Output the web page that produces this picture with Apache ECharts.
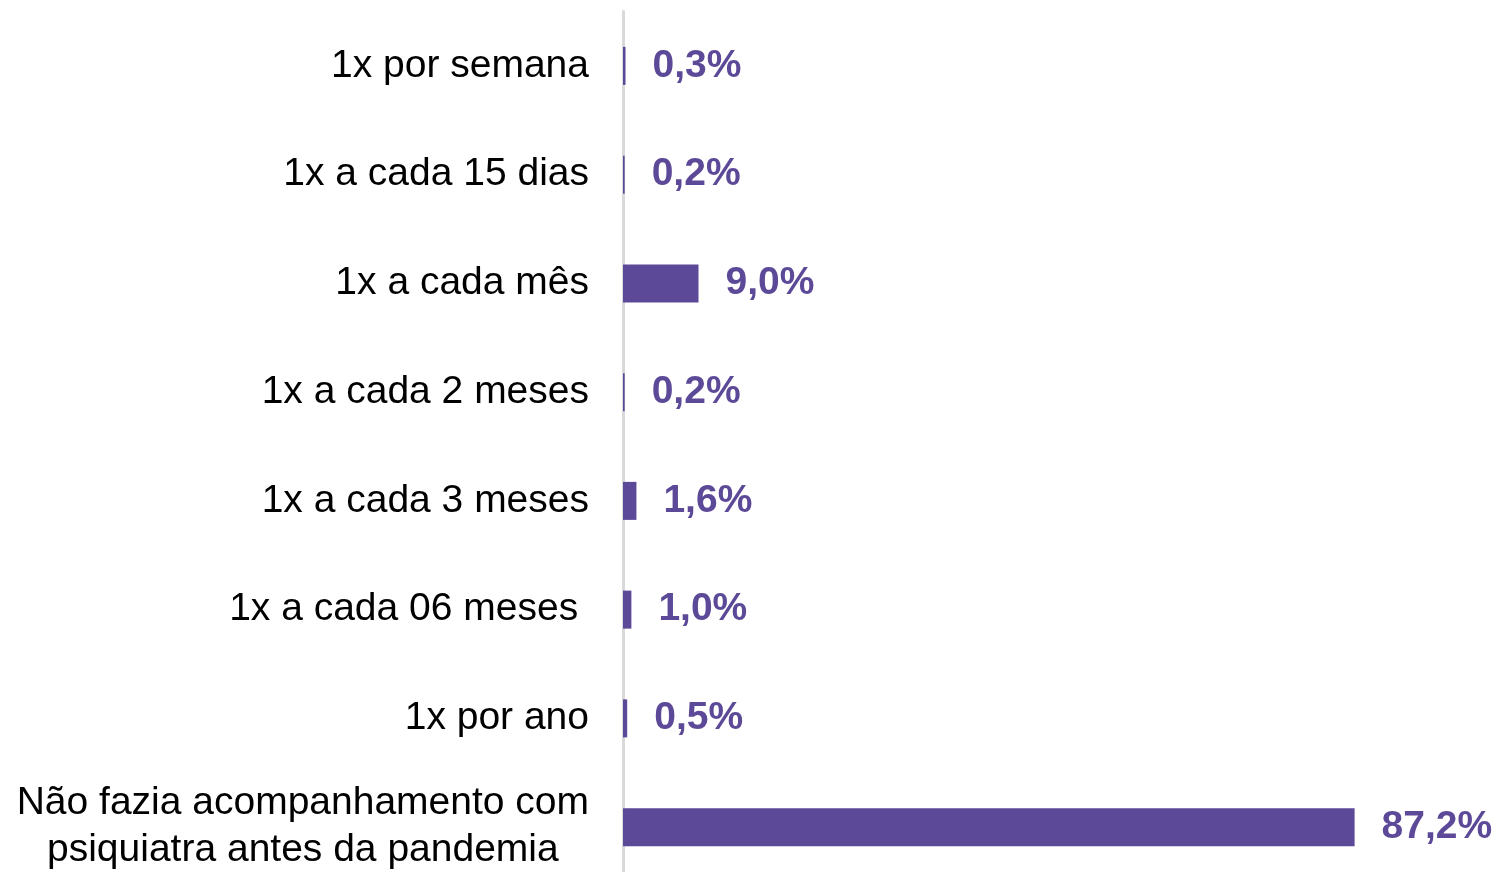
<!DOCTYPE html>
<html>
<head>
<meta charset="utf-8">
<script src="https://cdn.jsdelivr.net/npm/echarts@6/dist/echarts.min.js"></script>
<style>
html,body{margin:0;padding:0;background:#fff;}
#chart{width:1498px;height:872px;}
</style>
</head>
<body>
<div id="chart"></div>
<script>
const categories = [
  '1x por semana',
  '1x a cada 15 dias',
  '1x a cada mês',
  '1x a cada 2 meses',
  '1x a cada 3 meses',
  '1x a cada 06 meses ',
  '1x por ano',
  'Não fazia acompanhamento com\npsiquiatra antes da pandemia'
];
const values = [0.3, 0.2, 9.0, 0.2, 1.6, 1.0, 0.5, 87.2];

const chart = echarts.init(document.getElementById('chart'));
chart.setOption({
  animation: false,
  backgroundColor: '#ffffff',
  grid: { left: 623, right: 36, top: 11.5, height: 870, containLabel: false, outerBoundsMode: 'none' },
  xAxis: {
    type: 'value', min: 0, max: 100, show: false,
    splitLine: { show: false }
  },
  yAxis: {
    type: 'category',
    inverse: true,
    data: categories,
    axisTick: { show: false },
    axisLine: { show: true, lineStyle: { color: '#D9D9D9', width: 3 } },
    axisLabel: {
      margin: 34,
      color: '#000000',
      fontFamily: 'Liberation Sans, Arial, sans-serif',
      fontSize: 39,
      lineHeight: 47,
      formatter: function (v) {
        if (v.indexOf('\n') >= 0) {
          return v.split('\n').map(function (s) { return '{c|' + s + '}'; }).join('\n');
        }
        return v;
      },
      rich: {
        c: {
          align: 'center',
          color: '#000000',
          fontFamily: 'Liberation Sans, Arial, sans-serif',
          fontSize: 39,
          lineHeight: 47
        }
      }
    }
  },
  series: [{
    type: 'bar',
    data: values,
    barWidth: 38,
    itemStyle: { color: '#5C4997' },
    label: {
      show: true,
      position: 'right',
      distance: 27,
      color: '#5C4997',
      fontFamily: 'Liberation Sans, Arial, sans-serif',
      fontWeight: 'bold',
      fontSize: 39,
      formatter: function (p) { return p.value.toFixed(1).replace('.', ',') + '%'; }
    }
  }]
});
</script>
</body>
</html>
